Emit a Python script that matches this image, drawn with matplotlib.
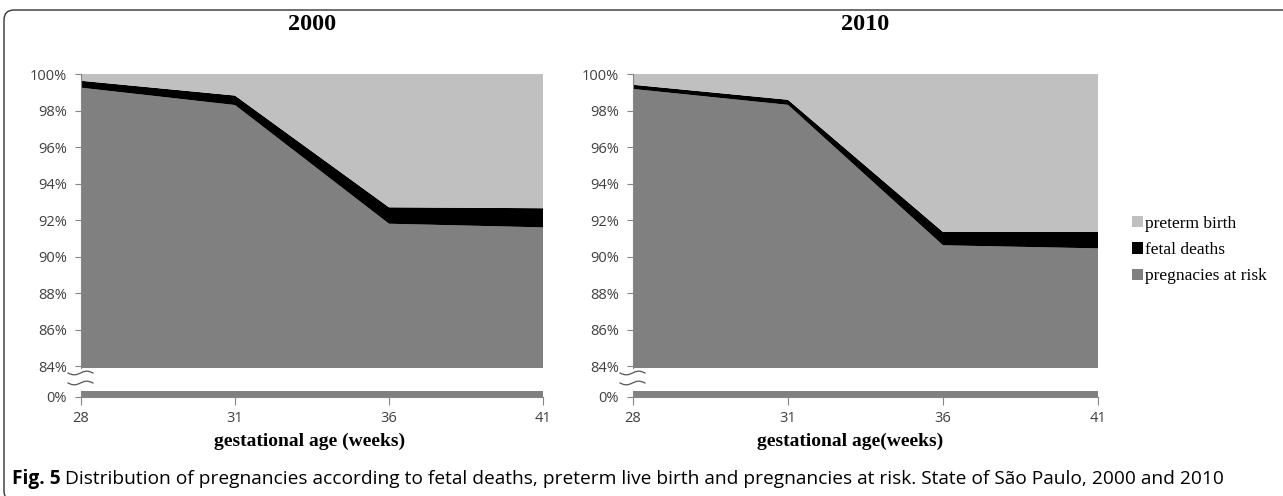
import numpy as np
import matplotlib
matplotlib.use("Agg")
import matplotlib.pyplot as plt
from matplotlib.patches import FancyBboxPatch
from matplotlib.lines import Line2D
from matplotlib.ticker import FuncFormatter

# data (percent of pregnancies)
weeks = ["28", "31", "36", "41"]
risk_2000 = [99.25, 98.30, 91.80, 91.60]
fetal_2000 = [0.38, 0.52, 0.90, 1.05]
risk_2010 = [99.18, 98.31, 90.62, 90.45]
fetal_2010 = [0.23, 0.28, 0.73, 0.90]
series_names = ["pregnacies at risk", "fetal deaths", "preterm birth"]
colors = ["#808080", "#000000", "#c0c0c0"]
panel_titles = ["2000", "2010"]
xlabels = ["gestational age (weeks)", "gestational age(weeks)"]
yticks_top = [84, 86, 88, 90, 92, 94, 96, 98, 100]

W, H = 1283, 496
fig = plt.figure(figsize=(W / 100, H / 100), dpi=100)

tick_font = {"family": "Open Sans", "size": 10.5}
serif = "Liberation Serif"
spine_col = "#868686"
text_col = "#404040"


def fx(px):
    return px / W


def fy(py):
    return 1 - py / H


def draw_panel(left, right, risk, fetal, title, xlabel, xlabel_x):
    preterm = [100 - a - b for a, b in zip(risk, fetal)]
    x = np.arange(len(weeks))
    # upper part of the broken axis
    ax = fig.add_axes([fx(left), fy(368), fx(right - left), fy(74) - fy(368)])
    polys = ax.stackplot(x, risk, fetal, preterm, colors=colors, labels=series_names)
    ax.set_xlim(0, len(weeks) - 1)
    ax.set_ylim(83.9, 100)
    ax.set_yticks(yticks_top)
    ax.yaxis.set_major_formatter(FuncFormatter(lambda v, p: f"{v:.0f}%"))
    ax.set_xticks([])
    for s in ["top", "right", "bottom"]:
        ax.spines[s].set_visible(False)
    ax.spines["left"].set_color(spine_col)
    ax.tick_params(axis="y", length=4, color=spine_col, pad=6, labelcolor=text_col)
    for lab in ax.get_yticklabels():
        lab.set_fontfamily(tick_font["family"])
        lab.set_fontsize(tick_font["size"])

    # lower strip near 0%
    ax2 = fig.add_axes([fx(left), fy(397), fx(right - left), fy(391) - fy(397)])
    ax2.stackplot(x, risk, fetal, preterm, colors=colors)
    ax2.set_xlim(0, len(weeks) - 1)
    ax2.set_ylim(0, 0.35)
    ax2.set_yticks([0])
    ax2.set_yticklabels(["0%"])
    ax2.set_xticks(x)
    ax2.set_xticklabels(weeks)
    for s in ["top", "right"]:
        ax2.spines[s].set_visible(False)
    ax2.spines["left"].set_color(spine_col)
    ax2.spines["bottom"].set_color(spine_col)
    ax2.tick_params(axis="y", length=4, color=spine_col, pad=6, labelcolor=text_col)
    ax2.tick_params(axis="x", length=6, color=spine_col, pad=4, labelcolor=text_col)
    for lab in ax2.get_yticklabels() + ax2.get_xticklabels():
        lab.set_fontfamily(tick_font["family"])
        lab.set_fontsize(tick_font["size"])

    # break marks
    t = np.linspace(0, 1, 30)
    for yb in (373, 383):
        xs = left - 13 + 25 * t
        ys = H - (yb + 1.8 * np.sin(2 * np.pi * t))
        fig.add_artist(Line2D(xs, ys, transform=None, color="#555555", lw=0.9))

    fig.text(fx((left + right) / 2), fy(24), title, family=serif, weight="bold",
             size=17.5, ha="center", va="center")
    fig.text(fx(xlabel_x), fy(441), xlabel, family=serif, weight="bold",
             size=14, ha="center", va="center")
    return polys


polys = draw_panel(81, 543, risk_2000, fetal_2000, panel_titles[0], xlabels[0], 310)
draw_panel(633, 1098, risk_2010, fetal_2010, panel_titles[1], xlabels[1], 850)

handles = polys[::-1]
fig.legend(handles, [series_names[2], series_names[1], series_names[0]],
           loc="center left", bbox_to_anchor=(fx(1132), fy(250)), frameon=False,
           prop={"family": serif, "size": 12.5}, handlelength=0.65, handleheight=0.65,
           handletextpad=0.12, labelspacing=0.6, borderpad=0, borderaxespad=0)

# caption
cap1 = fig.text(fx(12), fy(479), "Fig. 5", family="Open Sans", weight="bold",
                size=13.8, ha="left", va="center")
fig.canvas.draw()
bb = cap1.get_window_extent()
fig.text((bb.x1 + 4) / W, fy(479),
         "Distribution of pregnancies according to fetal deaths, preterm live birth and "
         "pregnancies at risk. State of São Paulo, 2000 and 2010",
         family="Open Sans", size=13.8, ha="left", va="center")

# rounded frame around the figure
frame = FancyBboxPatch((0.04, -0.05), 12.9, 4.91, boxstyle="round,pad=0,rounding_size=0.1",
                       transform=fig.dpi_scale_trans, fill=False, ec="#333333", lw=1.0)
fig.add_artist(frame)

fig.savefig("out.png", dpi=100)
